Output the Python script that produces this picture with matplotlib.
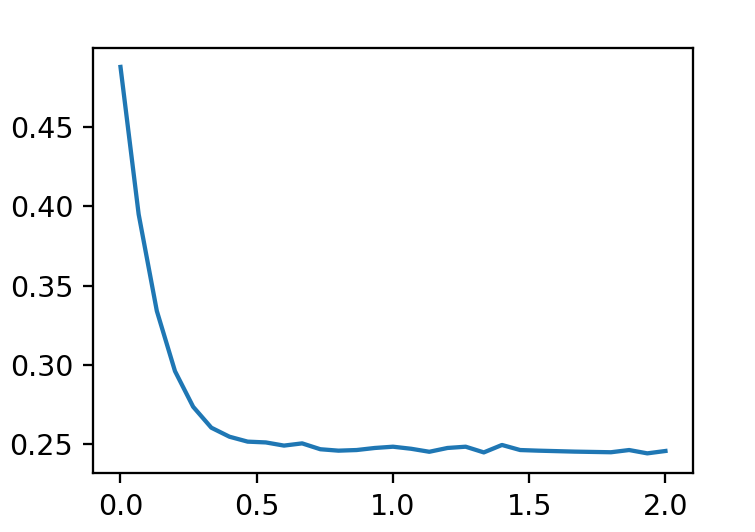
import numpy as np
import matplotlib
matplotlib.use('Agg')
import matplotlib.pyplot as plt

## x positions: 31 evenly spaced samples from 0 to 2
x = np.linspace(0, 2, 31)
## values
y = [0.488, 0.395, 0.334, 0.296, 0.2735, 0.2603, 0.2546, 0.2515, 0.251, 0.249,
     0.2504, 0.2467, 0.2458, 0.2462, 0.2475, 0.2483, 0.247, 0.2451, 0.2475, 0.2483,
     0.2447, 0.2494, 0.2462, 0.2458, 0.2455, 0.2452, 0.245, 0.2448, 0.2462, 0.2441,
     0.2456]

fig = plt.figure(figsize=(755/205, 532/205), dpi=205)
ax = fig.add_axes([0.1235, 0.1115, 0.794, 0.799])
ax.plot(x, y)
ax.set_xticks([0.0, 0.5, 1.0, 1.5, 2.0])
ax.set_yticks([0.25, 0.30, 0.35, 0.40, 0.45])

fig.savefig('out.png', dpi=205)
